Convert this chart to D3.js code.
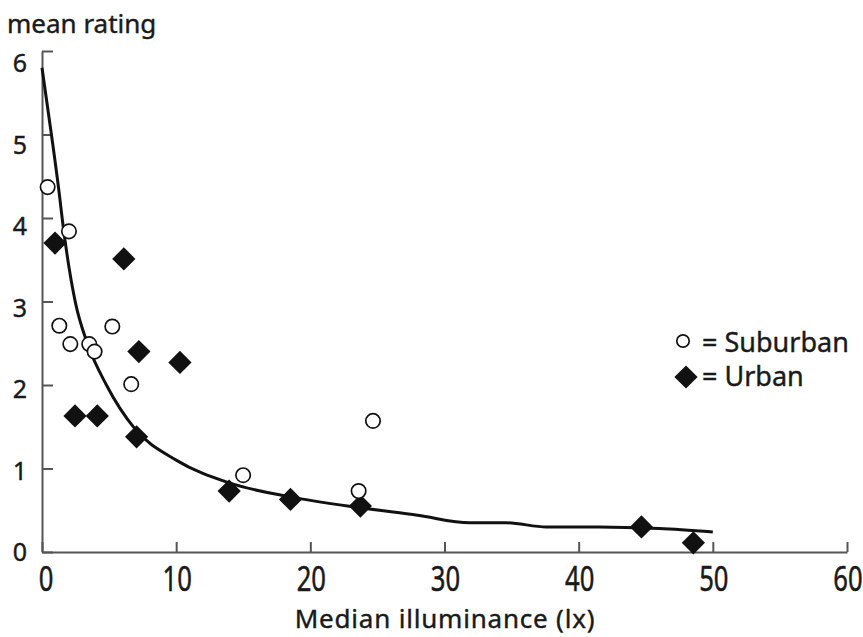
<!DOCTYPE html>
<html>
<head>
<meta charset="utf-8">
<script src="https://cdn.jsdelivr.net/npm/d3@7"></script>
<style>
  body { margin: 0; background: #fff; }
  svg { display: block; font-family: "Noto Sans", "Open Sans", sans-serif; }
  .axis path, .axis line { stroke: #555; stroke-width: 2; }
  .lbl { fill: #1a1a1a; stroke: #1a1a1a; stroke-width: 0.4; }
</style>
</head>
<body>
<svg id="chart" width="863" height="637"></svg>
<script>
// values
var xTicks = [0, 10, 20, 30, 40, 50, 60];
var yTicks = [0, 1, 2, 3, 4, 5, 6];

var suburbanX = [0.42, 2.01, 1.29, 2.11, 3.52, 3.92, 5.24, 6.65, 14.99, 23.6, 24.67];
var suburbanY = [4.37, 3.84, 2.71, 2.49, 2.49, 2.40, 2.70, 2.01, 0.92, 0.73, 1.57];

var urbanX = [0.97, 6.1, 7.22, 10.28, 2.46, 4.12, 7.05, 13.95, 18.52, 23.73, 44.68, 48.55];
var urbanY = [3.70, 3.51, 2.40, 2.27, 1.63, 1.63, 1.38, 0.73, 0.63, 0.55, 0.30, 0.11];

// fitted curve
var fitX = [0, 0.72, 1.34, 1.5, 2.5, 3.4, 4.8, 6.9, 10, 13.9, 18.5, 23.7, 28, 31.9, 34.6, 37.6, 41.5, 46, 50];
var fitY = [5.80, 4.98, 4.22, 4.0, 2.98, 2.49, 2.0, 1.48, 1.10, 0.83, 0.66, 0.53, 0.44, 0.35, 0.35, 0.30, 0.30, 0.28, 0.24];

var svg = d3.select("#chart");

var x = d3.scaleLinear().domain([0, 60]).range([42, 847]);
var y = d3.scaleLinear().domain([0, 6]).range([552, 51]);
// tick labels sit a little lower than their ticks near the top
var yLab = d3.scaleLinear().domain([0, 6]).range([561, 72]);

// axes
svg.append("g")
  .attr("class", "axis")
  .attr("transform", "translate(0," + y(0) + ")")
  .call(d3.axisBottom(x).tickValues(xTicks).tickSize(-10).tickSizeOuter(0).tickFormat(""));

svg.append("g")
  .attr("class", "axis")
  .attr("transform", "translate(" + x(0) + ",0)")
  .call(d3.axisLeft(y).tickValues(yTicks).tickSize(-11).tickSizeOuter(0).tickFormat(""));

// tick labels
svg.append("g").selectAll("text")
  .data(xTicks)
  .enter().append("text")
  .attr("class", "lbl")
  .attr("text-anchor", "middle")
  .attr("font-size", 27)
  .attr("transform", function(d) {
    var px = x(d) + (d === 0 ? 4 : 1);
    return "translate(" + px + ",591) scale(0.95,1.25)";
  })
  .text(function(d) { return d; });

svg.append("g").selectAll("text")
  .data(yTicks)
  .enter().append("text")
  .attr("class", "lbl")
  .attr("text-anchor", "middle")
  .attr("font-size", 25)
  .attr("x", 20)
  .attr("y", function(d) { return yLab(d); })
  .text(function(d) { return d; });

// titles
svg.append("text")
  .attr("class", "lbl")
  .attr("x", 7)
  .attr("y", 33)
  .attr("font-size", 26)
  .text("mean rating");

svg.append("text")
  .attr("class", "lbl")
  .attr("x", 445)
  .attr("y", 628)
  .attr("text-anchor", "middle")
  .attr("font-size", 26)
  .attr("letter-spacing", 0.8)
  .text("Median illuminance (lx)");

// fitted curve
var line = d3.line()
  .x(function(d, i) { return x(fitX[i]); })
  .y(function(d, i) { return y(fitY[i]); })
  .curve(d3.curveMonotoneX);

svg.append("path")
  .datum(fitX)
  .attr("d", line)
  .attr("fill", "none")
  .attr("stroke", "#111")
  .attr("stroke-width", 3);

var diamond = d3.symbol().type(d3.symbolSquare).size(270);

// urban points
svg.append("g").selectAll("path")
  .data(urbanX)
  .enter().append("path")
  .attr("d", diamond)
  .attr("fill", "#111")
  .attr("transform", function(d, i) {
    return "translate(" + x(d) + "," + y(urbanY[i]) + ") rotate(45)";
  });

// suburban points
svg.append("g").selectAll("circle")
  .data(suburbanX)
  .enter().append("circle")
  .attr("cx", function(d) { return x(d); })
  .attr("cy", function(d, i) { return y(suburbanY[i]); })
  .attr("r", 7.2)
  .attr("fill", "#fff")
  .attr("stroke", "#111")
  .attr("stroke-width", 1.7);

// legend
var legend = svg.append("g");
legend.append("circle")
  .attr("cx", 683).attr("cy", 341).attr("r", 6.2)
  .attr("fill", "#fff").attr("stroke", "#111").attr("stroke-width", 1.7);
legend.append("path")
  .attr("d", diamond)
  .attr("fill", "#111")
  .attr("transform", "translate(686,377) rotate(45)");
legend.append("text")
  .attr("class", "lbl")
  .attr("x", 702).attr("y", 352)
  .attr("font-size", 27)
  .text("= Suburban");
legend.append("text")
  .attr("class", "lbl")
  .attr("x", 702).attr("y", 386)
  .attr("font-size", 27)
  .text("= Urban");
</script>
</body>
</html>
